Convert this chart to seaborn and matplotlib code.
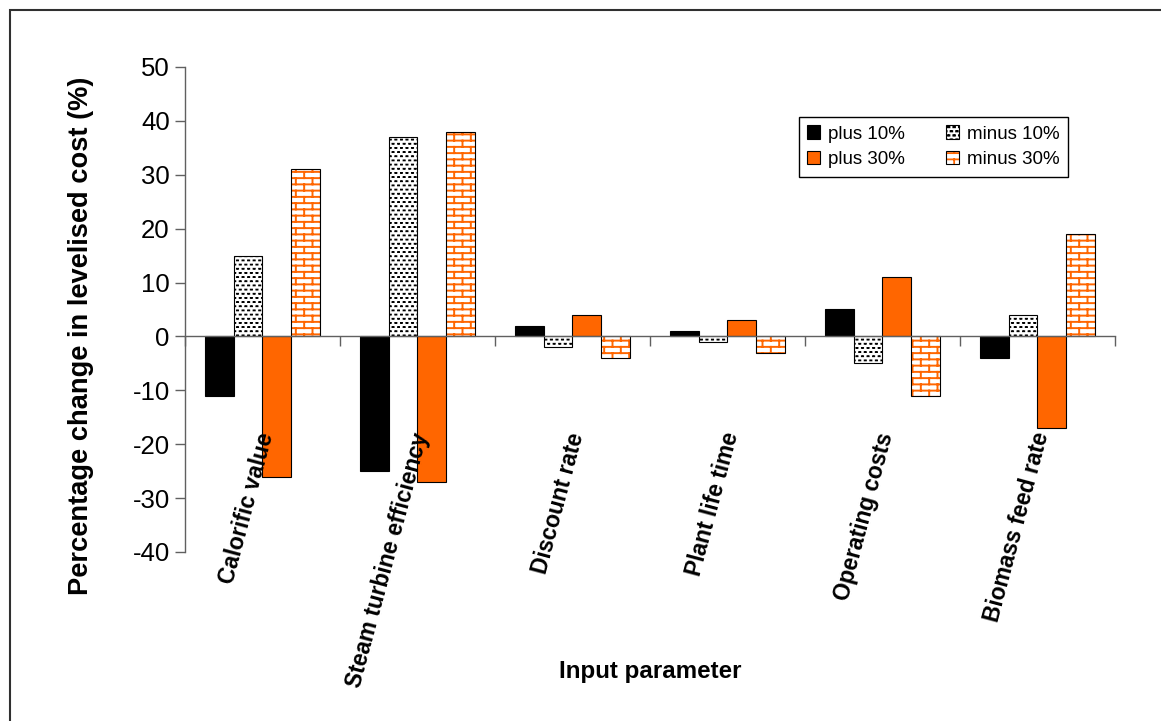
import warnings

import numpy as np
import pandas as pd
import matplotlib
matplotlib.use("Agg")
import matplotlib.pyplot as plt
import matplotlib.hatch as mhatch
import matplotlib.colors as mcolors
from matplotlib.path import Path
from matplotlib.patches import Patch, Rectangle
import seaborn as sns

warnings.filterwarnings("ignore", category=matplotlib.MatplotlibDeprecationWarning)

# ---------------------------------------------------------------- data
parameters = [
    "Calorific value",
    "Steam turbine efficiency",
    "Discount rate",
    "Plant life time",
    "Operating costs",
    "Biomass feed rate",
]
scenarios = ["plus 10%", "minus 10%", "plus 30%", "minus 30%"]
plus_10 = [-11, -25, 2, 1, 5, -4]
minus_10 = [15, 37, -2, -1, -5, 4]
plus_30 = [-26, -27, 4, 3, 11, -17]
minus_30 = [31, 38, -4, -3, -11, 19]
y_ticks = [-40, -30, -20, -10, 0, 10, 20, 30, 40, 50]

ORANGE = "#FF6600"


# ---------------------------------------------------------------- custom hatches
class BrickHatch(mhatch.HatchPatternBase):
    """Running-bond brick courses ('b'): mortar lines plus staggered joints."""

    ROWS, COLS = 16, 6  # courses and bricks per hatch tile

    def __init__(self, hatch, density):
        self.segments = []
        if "b" in hatch:
            rows, cols = self.ROWS, self.COLS
            h, w = 1.0 / rows, 1.0 / cols
            for r in range(rows):
                y = (r + 0.5) * h
                self.segments.append(((0.0, y), (1.0, y)))
            for r in range(rows + 1):
                shift = (w / 2) * (r % 2) + w / 4
                y0, y1 = (r - 0.5) * h, (r + 0.5) * h
                for c in range(cols):
                    x = c * w + shift
                    self.segments.append(((x, y0), (x, y1)))
        self.num_vertices = 2 * len(self.segments)

    def set_vertices_and_codes(self, vertices, codes):
        vertices[:] = np.array(self.segments, dtype=float).reshape(-1, 2)
        codes[0::2] = Path.MOVETO
        codes[1::2] = Path.LINETO


class DashHatch(mhatch.HatchPatternBase):
    """Staggered grid of short dashes ('d')."""

    ROWS, COLS = 24, 18
    DW, DH = 0.017, 0.004

    def __init__(self, hatch, density):
        self.rects = []
        if "d" in hatch:
            h, w = 1.0 / self.ROWS, 1.0 / self.COLS
            for r in range(self.ROWS):
                y = (r + 0.5) * h
                for c in range(self.COLS):
                    x = c * w + (w / 2) * (r % 2) + w / 4
                    self.rects.append((x, y))
        self.num_vertices = 5 * len(self.rects)

    def set_vertices_and_codes(self, vertices, codes):
        dw, dh = self.DW / 2, self.DH / 2
        out = []
        for x, y in self.rects:
            out += [(x - dw, y - dh), (x + dw, y - dh), (x + dw, y + dh),
                    (x - dw, y + dh), (x - dw, y - dh)]
        vertices[:] = np.array(out, dtype=float)
        codes[:] = np.tile([Path.MOVETO, Path.LINETO, Path.LINETO, Path.LINETO,
                            Path.CLOSEPOLY], len(self.rects))


mhatch._hatch_types.extend([BrickHatch, DashHatch])

HATCHES = {"plus 10%": None, "minus 10%": "d", "plus 30%": None, "minus 30%": "b"}
HATCH_COLORS = {"minus 10%": "black", "minus 30%": ORANGE}
HATCH_WIDTHS = {"minus 10%": 1.0, "minus 30%": 1.4}
FACES = {"plus 10%": "black", "minus 10%": "white", "plus 30%": ORANGE, "minus 30%": "white"}


def style_hatch(patch, name):
    hatch = HATCHES[name]
    if not hatch:
        return
    patch.set_hatch(hatch)
    if hasattr(patch, "set_hatch_linewidth"):
        patch.set_hatch_linewidth(HATCH_WIDTHS[name])
    if hasattr(patch, "set_hatchcolor"):
        patch.set_hatchcolor(HATCH_COLORS[name])
    else:
        patch._hatch_color = mcolors.to_rgba(HATCH_COLORS[name])


# ---------------------------------------------------------------- style
sns.set_style("white")
plt.rcParams["font.family"] = ["Liberation Sans", "DejaVu Sans"]
plt.rcParams["hatch.linewidth"] = 1.3
plt.rcParams["axes.unicode_minus"] = False
for key in ("text.color", "axes.labelcolor", "xtick.labelcolor", "ytick.labelcolor"):
    plt.rcParams[key] = "black"

df = pd.DataFrame({
    "parameter": np.repeat(parameters, len(scenarios)),
    "scenario": scenarios * len(parameters),
    "change": np.ravel(np.column_stack([plus_10, minus_10, plus_30, minus_30])),
})

fig = plt.figure(figsize=(11.61, 7.21), dpi=100)
ax = fig.add_axes([0.1593, 0.2344, 0.8010, 0.6727])

sns.barplot(
    data=df, x="parameter", y="change", hue="scenario",
    order=parameters, hue_order=scenarios, palette=FACES,
    width=0.74, saturation=1, edgecolor="black", linewidth=0.8,
    legend=False, ax=ax,
)

for name, container in zip(scenarios, ax.containers):
    for bar in container:
        style_hatch(bar, name)

# ---------------------------------------------------------------- axes
GREY = "#606060"
ax.set_ylim(-40, 50)
ax.set_xlim(-0.5, len(parameters) - 0.5)
ax.set_yticks(y_ticks)
ax.tick_params(axis="y", labelsize=18.5, length=7, width=1, color=GREY,
               labelcolor="black", direction="out", left=True, pad=4)
ax.set_xticks(np.arange(-0.5, len(parameters), 1.0))
ax.set_xticklabels([])
ax.tick_params(axis="x", length=7, width=1, color=GREY, direction="out", bottom=True)

for side in ("top", "right"):
    ax.spines[side].set_visible(False)
ax.spines["bottom"].set_position(("data", 0))
for side in ("left", "bottom"):
    ax.spines[side].set_color(GREY)
    ax.spines[side].set_linewidth(1.0)
ax.grid(False)

for i, name in enumerate(parameters):
    ax.text(i + 0.03, -17.9, name, rotation=75, rotation_mode="anchor",
            ha="right", va="center", fontsize=16.4, fontweight="bold",
            color="black", zorder=6, clip_on=False)

ax.set_ylabel("Percentage change in levelised cost (%)", fontsize=19.6,
              fontweight="bold", color="black")
ax.yaxis.set_label_coords(-0.098, 0.445)
ax.set_xlabel("Input parameter", fontsize=17.4, fontweight="bold", color="black")
ax.xaxis.set_label_coords(0.5, -0.223)

# ---------------------------------------------------------------- legend
handles = []
for name in ["plus 10%", "plus 30%", "minus 10%", "minus 30%"]:
    h = Patch(facecolor=FACES[name], edgecolor="black", linewidth=0.8, label=name)
    style_hatch(h, name)
    handles.append(h)
leg = ax.legend(
    handles=handles, ncol=2, loc="upper left", bbox_to_anchor=(0.660, 0.897),
    fontsize=13.5, frameon=True, fancybox=False, framealpha=1,
    edgecolor="black", handlelength=0.7, handleheight=0.7, handletextpad=0.4,
    columnspacing=2.2, labelspacing=0.45, borderpad=0.45, borderaxespad=0,
)
leg.get_frame().set_linewidth(1.0)
for t in leg.get_texts():
    t.set_color("black")

# page border
fig.add_artist(Rectangle((10 / 1161, -0.1), 1.2, 1 - 10 / 721 + 0.1,
                         transform=fig.transFigure, fill=False,
                         edgecolor="#303030", linewidth=1.5))

fig.savefig("out.png", dpi=100)
